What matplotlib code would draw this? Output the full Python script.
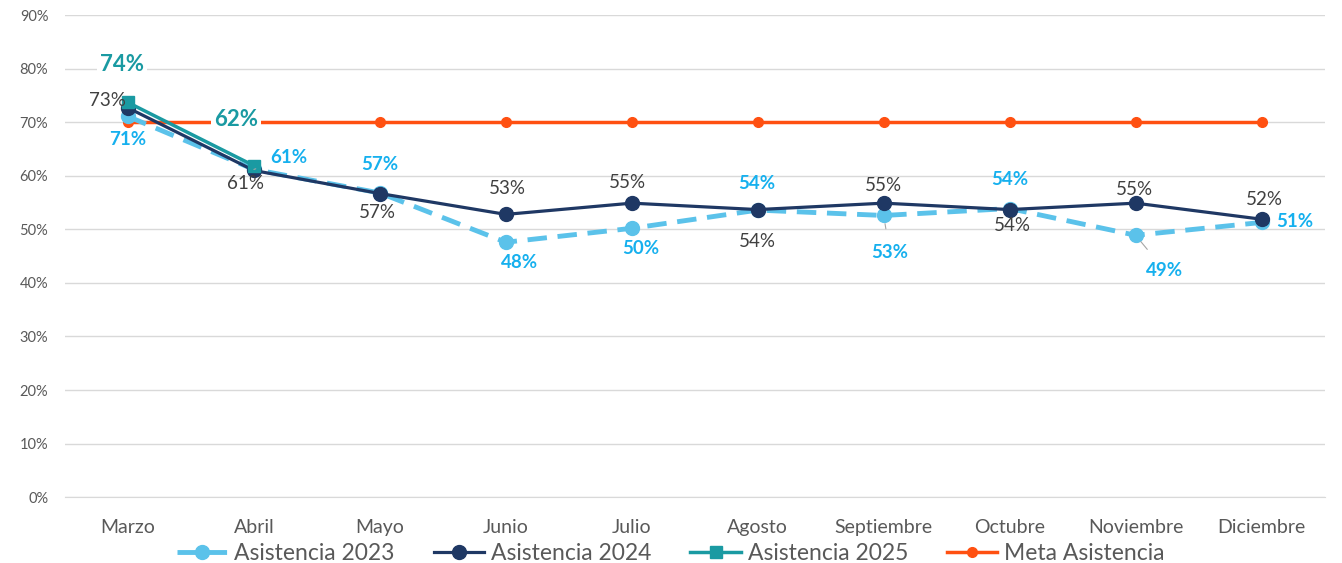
import matplotlib
matplotlib.use("Agg")
import matplotlib.pyplot as plt
from matplotlib.ticker import FuncFormatter

plt.rcParams['font.family'] = ['Lato', 'DejaVu Sans']

meses = ["Marzo", "Abril", "Mayo", "Junio", "Julio", "Agosto", "Septiembre",
         "Octubre", "Noviembre", "Diciembre"]
asis_2023 = [0.711, 0.612, 0.568, 0.476, 0.502, 0.536, 0.526, 0.539, 0.489, 0.513]
asis_2024 = [0.727, 0.610, 0.567, 0.528, 0.549, 0.537, 0.549, 0.537, 0.549, 0.519]
asis_2025 = [0.737, 0.619]
meta = [0.70] * 10

# desplazamientos de etiquetas (pixeles)
off_2023 = [(0, -23), (35, 12), (0, 28), (14, -20), (9, -20), (-1, 27),
            (6, -37), (0, 29), (29, -35), (33, 1)]
off_2024 = [(-20, 7), (-8, -13), (-2, -19), (2, 26), (-4, 21), (0, -32),
            (0, 18), (3, -16), (-1, 14), (3, 20)]
off_2025 = [(-6, 38), (-18, 46)]
lider_2023 = [1, 6, 8]

c23 = "#5BC2EA"
c24 = "#1F3864"
c25 = "#1A9AA2"
cmeta = "#FF5011"
ctxt23 = "#16B0EE"
ctxt24 = "#404040"

fig = plt.figure(figsize=(13.42, 5.63), dpi=100)
ax = fig.add_axes([0.0484, 0.117, 0.9386, 0.856])

x = list(range(len(meses)))
ax.plot(x, asis_2023, color=c23, lw=3.5, ls=(0, (4, 2.2)), marker="o", ms=10,
        label="Asistencia 2023", zorder=3)
ax.plot(x, asis_2024, color=c24, lw=2.3, marker="o", ms=10,
        label="Asistencia 2024", zorder=4)
ax.plot(x[:2], asis_2025, color=c25, lw=2.5, marker="s", ms=9,
        label="Asistencia 2025", zorder=5)
ax.plot(x, meta, color=cmeta, lw=2.5, marker="o", ms=7,
        label="Meta Asistencia", zorder=2)

for i, v in enumerate(asis_2023):
    dx, dy = off_2023[i]
    ap = dict(arrowstyle="-", color="#A6A6A6", lw=0.8, shrinkA=9, shrinkB=6) if i in lider_2023 else None
    ax.annotate(f"{v:.0%}", (i, v), xytext=(dx, dy), textcoords="offset pixels",
                ha="center", va="center", color=ctxt23, fontsize=13.5,
                fontweight="bold", arrowprops=ap, zorder=6)
for i, v in enumerate(asis_2024):
    dx, dy = off_2024[i]
    ax.annotate(f"{v:.0%}", (i, v), xytext=(dx, dy), textcoords="offset pixels",
                ha="center", va="center", color=ctxt24, fontsize=13.5, zorder=6)
for i, v in enumerate(asis_2025):
    dx, dy = off_2025[i]
    ax.annotate(f"{v:.0%}", (i, v), xytext=(dx, dy), textcoords="offset pixels",
                ha="center", va="center", color=c25, fontsize=16,
                fontweight="bold", zorder=6,
                bbox=dict(boxstyle="square,pad=0.15", fc="white", ec="none"))

ax.set_xlim(-0.5, len(meses) - 0.5)
ax.set_ylim(0, 0.9)
ax.set_yticks([i / 10 for i in range(10)])
ax.yaxis.set_major_formatter(FuncFormatter(lambda v, p: f"{v:.0%}"))
ax.set_xticks(x)
ax.set_xticklabels(meses)
ax.tick_params(axis="x", labelsize=14, colors="#595959", length=0, pad=16)
ax.tick_params(axis="y", labelsize=10.5, colors="#595959", length=0, pad=12)
ax.grid(axis="y", color="#D9D9D9", lw=1)
ax.set_axisbelow(True)
for s in ["top", "right", "left"]:
    ax.spines[s].set_visible(False)
ax.spines["bottom"].set_color("#D9D9D9")

h, l = ax.get_legend_handles_labels()
leg = fig.legend(h, l, loc="upper center", bbox_to_anchor=(0.5, 0.036), ncol=4,
                 frameon=False, fontsize=16.5, handlelength=2.2, columnspacing=1.7,
                 handletextpad=0.3, borderaxespad=0, borderpad=0)
for t in leg.get_texts():
    t.set_color("#595959")

fig.savefig("out.png", dpi=100)
